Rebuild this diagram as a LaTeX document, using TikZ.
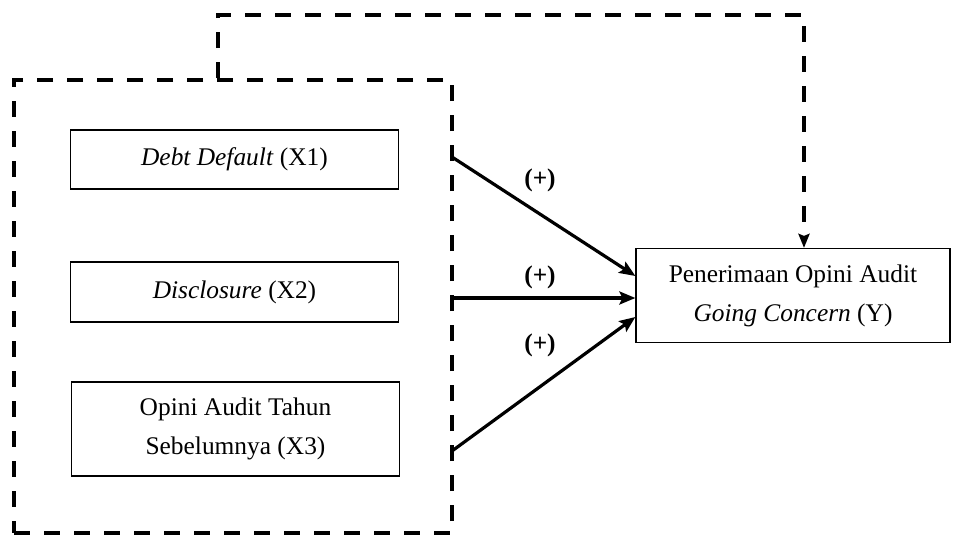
\documentclass[tikz,border=0pt]{standalone}
\usepackage{fontspec}
\setmainfont{Liberation Serif}
\usetikzlibrary{arrows.meta,fit,calc}
\begin{document}
\begin{tikzpicture}[x=0.5pt, y=-0.5pt,
    varbox/.style={draw, line width=0.6pt, minimum width=164pt, inner sep=0pt, align=center,
      font=\fontsize{12.7}{19.5}\selectfont},
    grpbox/.style={draw, line width=2pt, dash pattern=on 8pt off 7pt, inner sep=0pt},
    effect/.style={line width=1.6pt, -{Stealth[length=8pt, width=6.5pt, inset=1.5pt]}},
    plus/.style={font=\fontsize{12.7}{14}\selectfont\bfseries}]
    \useasboundingbox (0,0) rectangle (955,536);

    % Independent variables
    \node[varbox, minimum height=29.5pt] (x1) at (234.5,159.5) {\textit{Debt Default} (X1)};
    \node[varbox, minimum height=30pt] (x2) at (234.5,292) {\textit{Disclosure} (X2)};
    \node[varbox, minimum height=47pt] (x3) at (235.5,429) {Opini Audit Tahun\\Sebelumnya (X3)};

    % Dependent variable
    \node[varbox, minimum width=157pt, minimum height=47pt] (y) at (793,295.5)
      {Penerimaan Opini Audit\\\textit{Going Concern} (Y)};

    % Group around X1--X3
    \node[grpbox, fit={(14,80) (452,533)}] (grp) {};

    % Partial effects
    \coordinate (s1) at (452,157);
    \coordinate (s2) at (452,298);
    \coordinate (s3) at (452,451);
    \draw[effect] (s1) -- (y.west |- 0,276);
    \draw[effect] (s2) -- (y.west |- 0,298);
    \draw[effect] (s3) -- (y.west |- 0,317);
    \node[plus] (p1) at (540,180) {(+)};
    \node[plus] (p2) at (540,277) {(+)};
    \node[plus] (p3) at (540,345) {(+)};

    % Simultaneous effect
    \coordinate (k0) at (218,15);
    \coordinate (k1) at (804,15);
    \coordinate (k2) at ($(y.north -| k1) + (0,-12)$);
    \draw[line width=2pt, dash pattern=on 8pt off 7pt] (grp.north -| k0) -- (k0) -- (k1) -- (k2);
    \draw[line width=2pt, -{Stealth[length=7pt, width=5.5pt, inset=1pt]}] (k2) -- (y.north -| k1);
\end{tikzpicture}
\end{document}
